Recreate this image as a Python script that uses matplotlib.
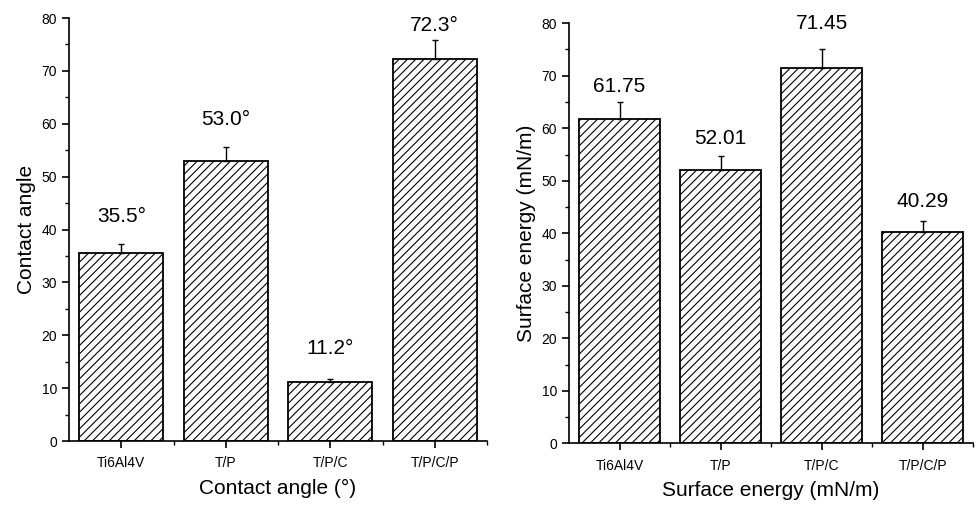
import matplotlib
matplotlib.use('Agg')
import matplotlib.pyplot as plt
from matplotlib.ticker import MultipleLocator, FixedLocator

# Data
samples = ['Ti6Al4V', 'T/P', 'T/P/C', 'T/P/C/P']
contact_angle = [35.5, 53.0, 11.2, 72.3]
contact_err = [1.8, 2.6, 0.5, 3.6]
contact_labels = ['35.5°', '53.0°', '11.2°', '72.3°']
surface_energy = [61.75, 52.01, 71.45, 40.29]
surface_err = [3.2, 2.8, 3.65, 2.1]
surface_labels = ['61.75', '52.01', '71.45', '40.29']

plt.rcParams['font.family'] = ['Liberation Sans', 'DejaVu Sans']
plt.rcParams['hatch.linewidth'] = 0.8

fig = plt.figure(figsize=(9.76, 5.05), dpi=100)
ax1 = fig.add_axes([0.0707, 0.1267, 0.4283, 0.8376])
ax2 = fig.add_axes([0.583, 0.122, 0.414, 0.832])


def draw_panel(ax, values, errs, labels, ylabel, xlabel, label_pad):
    x = list(range(1, len(samples) + 1))
    ax.bar(x, values, width=0.8, color='white', edgecolor='black',
           linewidth=1.3, hatch='////', zorder=2)
    ax.errorbar(x, values, yerr=[[0] * len(errs), errs], fmt='none',
                ecolor='black', elinewidth=1.0, capsize=2.5, capthick=1.0, zorder=3)
    for xi, v, e, lab, pad in zip(x, values, errs, labels, label_pad):
        ax.annotate(lab, (xi, v + e), xytext=(0, pad), textcoords='offset points',
                    ha='center', va='center', fontsize=15, annotation_clip=False)

    ax.set_xlim(0.5, 4.5)
    ax.set_ylim(0, 80)
    ax.spines['top'].set_visible(False)
    ax.spines['right'].set_visible(False)
    ax.spines['left'].set_linewidth(1.2)
    ax.spines['bottom'].set_linewidth(1.2)

    ax.set_xticks(x)
    ax.set_xticklabels(samples, fontsize=10)
    ax.xaxis.set_minor_locator(FixedLocator([1.5, 2.5, 3.5, 4.5]))
    ax.yaxis.set_major_locator(MultipleLocator(10))
    ax.yaxis.set_minor_locator(MultipleLocator(5))
    ax.tick_params(axis='both', which='major', direction='out', length=5, width=1.2,
                   labelsize=10)
    ax.tick_params(axis='both', which='minor', direction='out', length=3, width=1.0)
    ax.tick_params(axis='x', pad=6)

    ax.set_ylabel(ylabel, fontsize=15, labelpad=4)
    ax.set_xlabel(xlabel, fontsize=15, labelpad=6)


draw_panel(ax1, contact_angle, contact_err, contact_labels,
           'Contact angle', 'Contact angle (°)', [20, 20, 22, 10])
draw_panel(ax2, surface_energy, surface_err, surface_labels,
           'Surface energy (mN/m)', 'Surface energy (mN/m)', [11, 12, 18, 14])

fig.savefig('out.png', dpi=100)
